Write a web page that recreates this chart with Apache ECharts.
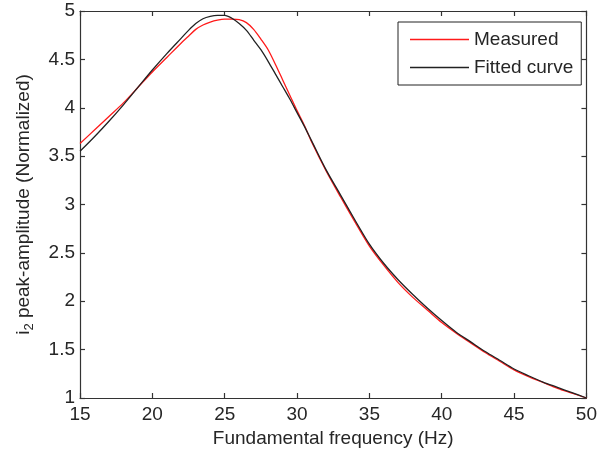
<!DOCTYPE html>
<html>
<head>
<meta charset="utf-8">
<script src="https://cdn.jsdelivr.net/npm/echarts@6/dist/echarts.min.js"></script>
<style>html,body{margin:0;padding:0;background:#fff}#c{width:600px;height:455px}</style>
</head>
<body>
<div id="c"></div>
<script>
var freq = [15,16,17,18,19,20,21,22,22.5,23,23.5,24,24.5,25,25.5,26,26.5,27,27.5,28,28.5,29,29.5,30,30.5,31,32,33,34,35,36,37,38,39,40,41,42,43,44,45,46,47,48,49,50];
var measured = [3.63,3.77,3.91,4.05,4.21,4.37,4.52,4.67,4.74,4.81,4.855,4.885,4.905,4.915,4.915,4.91,4.88,4.81,4.71,4.60,4.45,4.29,4.13,3.97,3.82,3.65,3.35,3.08,2.82,2.57,2.37,2.19,2.04,1.91,1.78,1.67,1.57,1.47,1.38,1.29,1.22,1.16,1.10,1.05,1.00];
var fitted = [3.55,3.70,3.86,4.03,4.21,4.39,4.56,4.72,4.80,4.87,4.92,4.945,4.955,4.955,4.925,4.87,4.80,4.70,4.60,4.48,4.35,4.22,4.09,3.95,3.81,3.66,3.36,3.10,2.84,2.59,2.39,2.22,2.07,1.93,1.80,1.68,1.58,1.48,1.39,1.30,1.23,1.165,1.11,1.055,1.00];
var seriesNames = ['Measured','Fitted curve'];
var seriesColors = ['#ff1a1a','#222222'];
var xTitle = 'Fundamental frequency (Hz)';

function pairs(xs, ys){ return xs.map(function(x,i){ return [x, ys[i]]; }); }

var axisColor = '#333';
var txtColor = '#262626';
var font = 'Liberation Sans, Arial, sans-serif';
var fs = 19;

function xAx(pos, showLabel){
  return {
    type:'value', position:pos, min:15, max:50, interval:5,
    axisLine:{show:true, onZero:false, lineStyle:{color:axisColor, width:1.2}},
    axisTick:{show:true, inside:true, length:5, lineStyle:{color:axisColor, width:1.2}},
    splitLine:{show:false},
    axisLabel:{show:showLabel, fontSize:fs, color:txtColor, fontFamily:font, margin:7},
    name: showLabel ? xTitle : '', nameLocation:'middle', nameGap:30,
    nameTextStyle:{fontSize:fs, color:txtColor, fontFamily:font}
  };
}
function yAx(pos, showLabel){
  return {
    type:'value', position:pos, min:1, max:5, interval:0.5,
    axisLine:{show:true, onZero:false, lineStyle:{color:axisColor, width:1.2}},
    axisTick:{show:true, inside:true, length:5, lineStyle:{color:axisColor, width:1.2}},
    splitLine:{show:false},
    axisLabel:{show:showLabel, fontSize:fs, color:txtColor, fontFamily:font, margin:5},
    name: showLabel ? '{a|i}{s|2}{a| peak-amplitude (Normalized)}' : '',
    nameLocation:'middle', nameGap:44, nameRotate:90,
    nameTextStyle:{
      fontSize:fs, color:txtColor, fontFamily:font,
      rich:{
        a:{fontSize:fs, color:txtColor, fontFamily:font, lineHeight:24, verticalAlign:'middle'},
        s:{fontSize:13, color:txtColor, fontFamily:font, lineHeight:24, verticalAlign:'bottom'}
      }
    }
  };
}

var lineIcon = 'path://M0,0L59,0L59,1.3L0,1.3Z';

var chart = echarts.init(document.getElementById('c'), null, {renderer:'canvas'});
chart.setOption({
  animation:false,
  backgroundColor:'#fff',
  grid:{left:80, right:10, top:11, bottom:57, containLabel:false},
  legend:{
    data:seriesNames.map(function(n){ return {name:n, icon:lineIcon}; }),
    orient:'vertical', left:398, top:22,
    padding:[8,8,8,12], itemWidth:59, itemHeight:18, itemGap:9,
    backgroundColor:'#fff', borderColor:'#222', borderWidth:1, borderRadius:0,
    textStyle:{fontSize:fs, color:txtColor, fontFamily:font}
  },
  xAxis:[xAx('bottom', true), xAx('top', false)],
  yAxis:[yAx('left', true), yAx('right', false)],
  series:[
    {name:seriesNames[0], type:'line', data:pairs(freq, measured), symbol:'none', smooth:0.3,
     lineStyle:{color:seriesColors[0], width:1.3}, itemStyle:{color:seriesColors[0]}, z:2},
    {name:seriesNames[1], type:'line', data:pairs(freq, fitted), symbol:'none', smooth:0.3,
     lineStyle:{color:seriesColors[1], width:1.3}, itemStyle:{color:seriesColors[1]}, z:3}
  ]
});
</script>
</body>
</html>
